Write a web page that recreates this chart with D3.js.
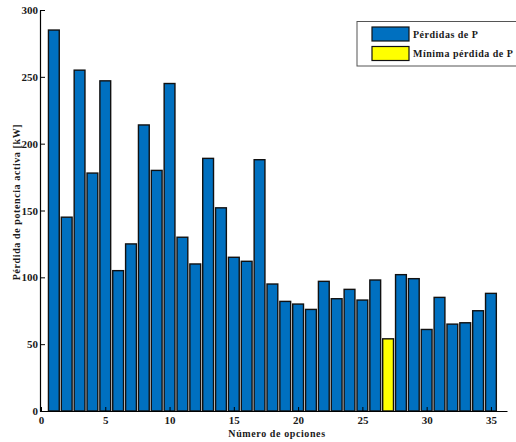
<!DOCTYPE html>
<html><head><meta charset="utf-8">
<script src="https://cdn.jsdelivr.net/npm/d3@7"></script>
<style>
body{margin:0;background:#fff;}
text{font-family:"Liberation Serif","Times New Roman",serif;font-weight:bold;}
</style></head>
<body><svg id="c" width="516" height="442"></svg>
<script>
const options = d3.range(1, 36);
const losses = [285,145,255,178,247,105,125,214,180,245,130,110,189,152,115,112,188,95,82,80,76,97,84,91,83,98,54,102,99,61,85,65,66,75,88];
const minIndex = 27;
const xTicks = [0,5,10,15,20,25,30,35];
const yTicks = [0,50,100,150,200,250,300];
const legendLabels = ["Pérdidas de P", "Mínima pérdida de P"];
const colors = ["#0070C0", "#FFFF00"];

const svg = d3.select("#c");
const x = d3.scaleLinear().domain([0, 36.25]).range([41, 507]);
const y = d3.scaleLinear().domain([0, 300]).range([411, 10]);
const bw = (x(1) - x(0)) * 0.84;

svg.append("g").selectAll("rect").data(options).join("rect")
  .attr("x", d => x(d) - bw/2)
  .attr("y", (d,i) => y(losses[i]))
  .attr("width", bw)
  .attr("height", (d,i) => y(0) - y(losses[i]))
  .attr("fill", d => d === minIndex ? colors[1] : colors[0])
  .attr("stroke", "#111")
  .attr("stroke-width", 1.4);

const xa = svg.append("g").attr("transform", `translate(0,${y(0)})`)
  .call(d3.axisBottom(x).tickValues(xTicks).tickSizeInner(-4).tickSizeOuter(0).tickPadding(5));
const ya = svg.append("g").attr("transform", `translate(${x(0)-1},0)`)
  .call(d3.axisLeft(y).tickValues(yTicks).tickSizeInner(-5).tickSizeOuter(0).tickPadding(2));
[xa, ya].forEach(a => {
  a.selectAll("path").attr("stroke", "#000").attr("stroke-width", 1.2);
  a.selectAll("line").attr("stroke", "#000");
  a.selectAll("text").attr("font-size", 11).attr("fill", "#1a1a1a")
    .style("font-family", '"Liberation Serif",serif').style("font-weight", "bold");
});

svg.append("text").attr("x", 277).attr("y", 437).attr("text-anchor", "middle")
  .attr("font-size", 10).attr("letter-spacing", 0.6).attr("fill", "#1a1a1a").text("Número de opciones");
svg.append("text").attr("transform", "translate(20,202) rotate(-90)").attr("text-anchor", "middle")
  .attr("font-size", 10).attr("letter-spacing", 0.6).attr("fill", "#1a1a1a").text("Pérdida de potencia activa [kW]");

const lg = svg.append("g");
lg.append("rect").attr("x", 357).attr("y", 21.5).attr("width", 170).attr("height", 44.5)
  .attr("fill", "#fff").attr("stroke", "#555").attr("stroke-width", 1);
legendLabels.forEach((t, i) => {
  lg.append("rect").attr("x", 372).attr("y", 27 + i*19.5).attr("width", 37).attr("height", 14)
    .attr("fill", colors[i]).attr("stroke", "#111").attr("stroke-width", 1.2);
  lg.append("text").attr("x", 413).attr("y", 37.5 + i*19.5).attr("font-size", 10)
    .attr("letter-spacing", 0.5).attr("fill", "#1a1a1a").text(t);
});
</script></body></html>
